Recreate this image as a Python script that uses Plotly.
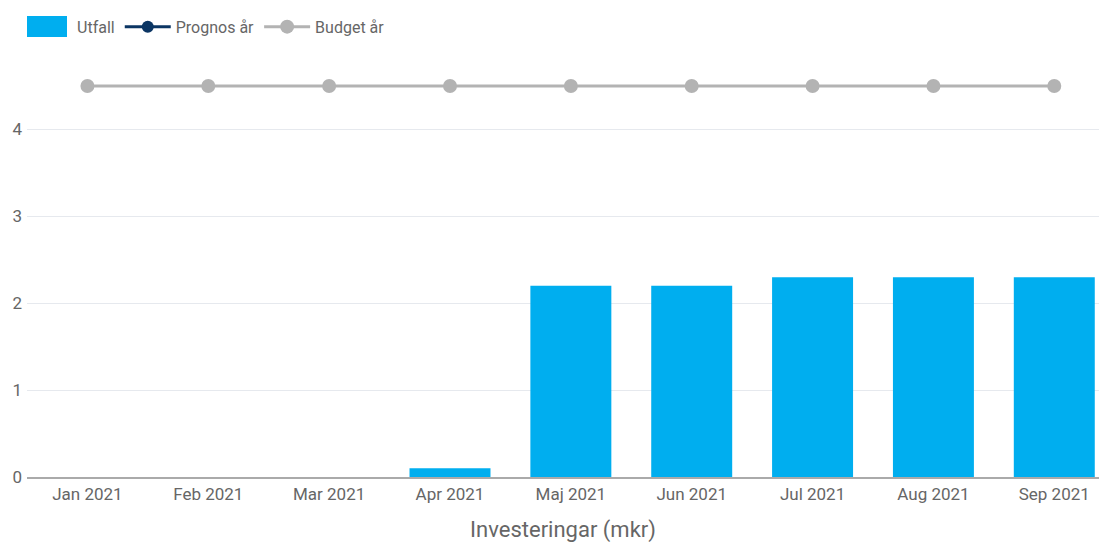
import plotly.graph_objects as go

months = ["Jan 2021", "Feb 2021", "Mar 2021", "Apr 2021", "Maj 2021",
          "Jun 2021", "Jul 2021", "Aug 2021", "Sep 2021"]
utfall = [0, 0, 0, 0.1, 2.2, 2.2, 2.3, 2.3, 2.3]
prognos = [None] * 9
budget = [4.5] * 9
y_ticks = [0, 1, 2, 3, 4]

BAR_COLOR = "#00aeef"

fig = go.Figure()
fig.add_trace(go.Bar(x=months, y=utfall, name="Utfall",
                     marker=dict(color=BAR_COLOR, line=dict(width=0))))
fig.add_trace(go.Scatter(x=months, y=prognos, name="Prognos år", mode="lines+markers",
                         line=dict(color="#0b3563", width=3),
                         marker=dict(size=12, color="#0b3563")))
fig.add_trace(go.Scatter(x=months, y=budget, name="Budget år", mode="lines+markers",
                         line=dict(color="#b3b3b3", width=3),
                         marker=dict(size=14, color="#b3b3b3")))

W, H = 1099, 543
ML, MR, MT, MB = 27, 0, 60, 66
pw, ph = W - ML - MR, H - MT - MB

def px_x(p):
    return (p - ML) / pw

def px_y(p):
    return (H - MB - p) / ph

# larger legend swatch for the bar series
fig.add_shape(type="rect", xref="paper", yref="paper",
              x0=px_x(27), x1=px_x(67), y0=px_y(37), y1=px_y(16),
              fillcolor=BAR_COLOR, line=dict(width=0), layer="above")

fig.update_layout(
    width=W, height=H,
    margin=dict(l=ML, r=MR, t=MT, b=MB, autoexpand=False),
    paper_bgcolor="white", plot_bgcolor="white",
    font=dict(family="Roboto", size=16, color="#666666"),
    bargap=0.33,
    showlegend=True,
    legend=dict(orientation="h", x=-0.0055, xanchor="left", y=0.982, yanchor="top",
                yref="container", font=dict(size=16, color="#666666"),
                bgcolor="rgba(0,0,0,0)",
                itemwidth=46, tracegroupgap=0),
    xaxis=dict(range=[-0.5, 8.37], showgrid=False, showline=True, automargin=False,
               linecolor="#aaaaaa", linewidth=2, ticks="", ticklabelstandoff=1,
               title=dict(text="Investeringar (mkr)", font=dict(size=22, color="#666666"),
                          standoff=22),
               tickfont=dict(size=17, color="#666666")),
    yaxis=dict(range=[0, 4.8], tickvals=y_ticks, showgrid=True, automargin=False,
               gridcolor="#e6e9ee", gridwidth=1, zeroline=False, ticks="",
               tickfont=dict(size=17, color="#666666"), ticklabelstandoff=4),
)

fig.write_html("out.html",
               config={"displayModeBar": False},
               post_script="document.body.style.margin='0';document.body.style.overflow='hidden';")
